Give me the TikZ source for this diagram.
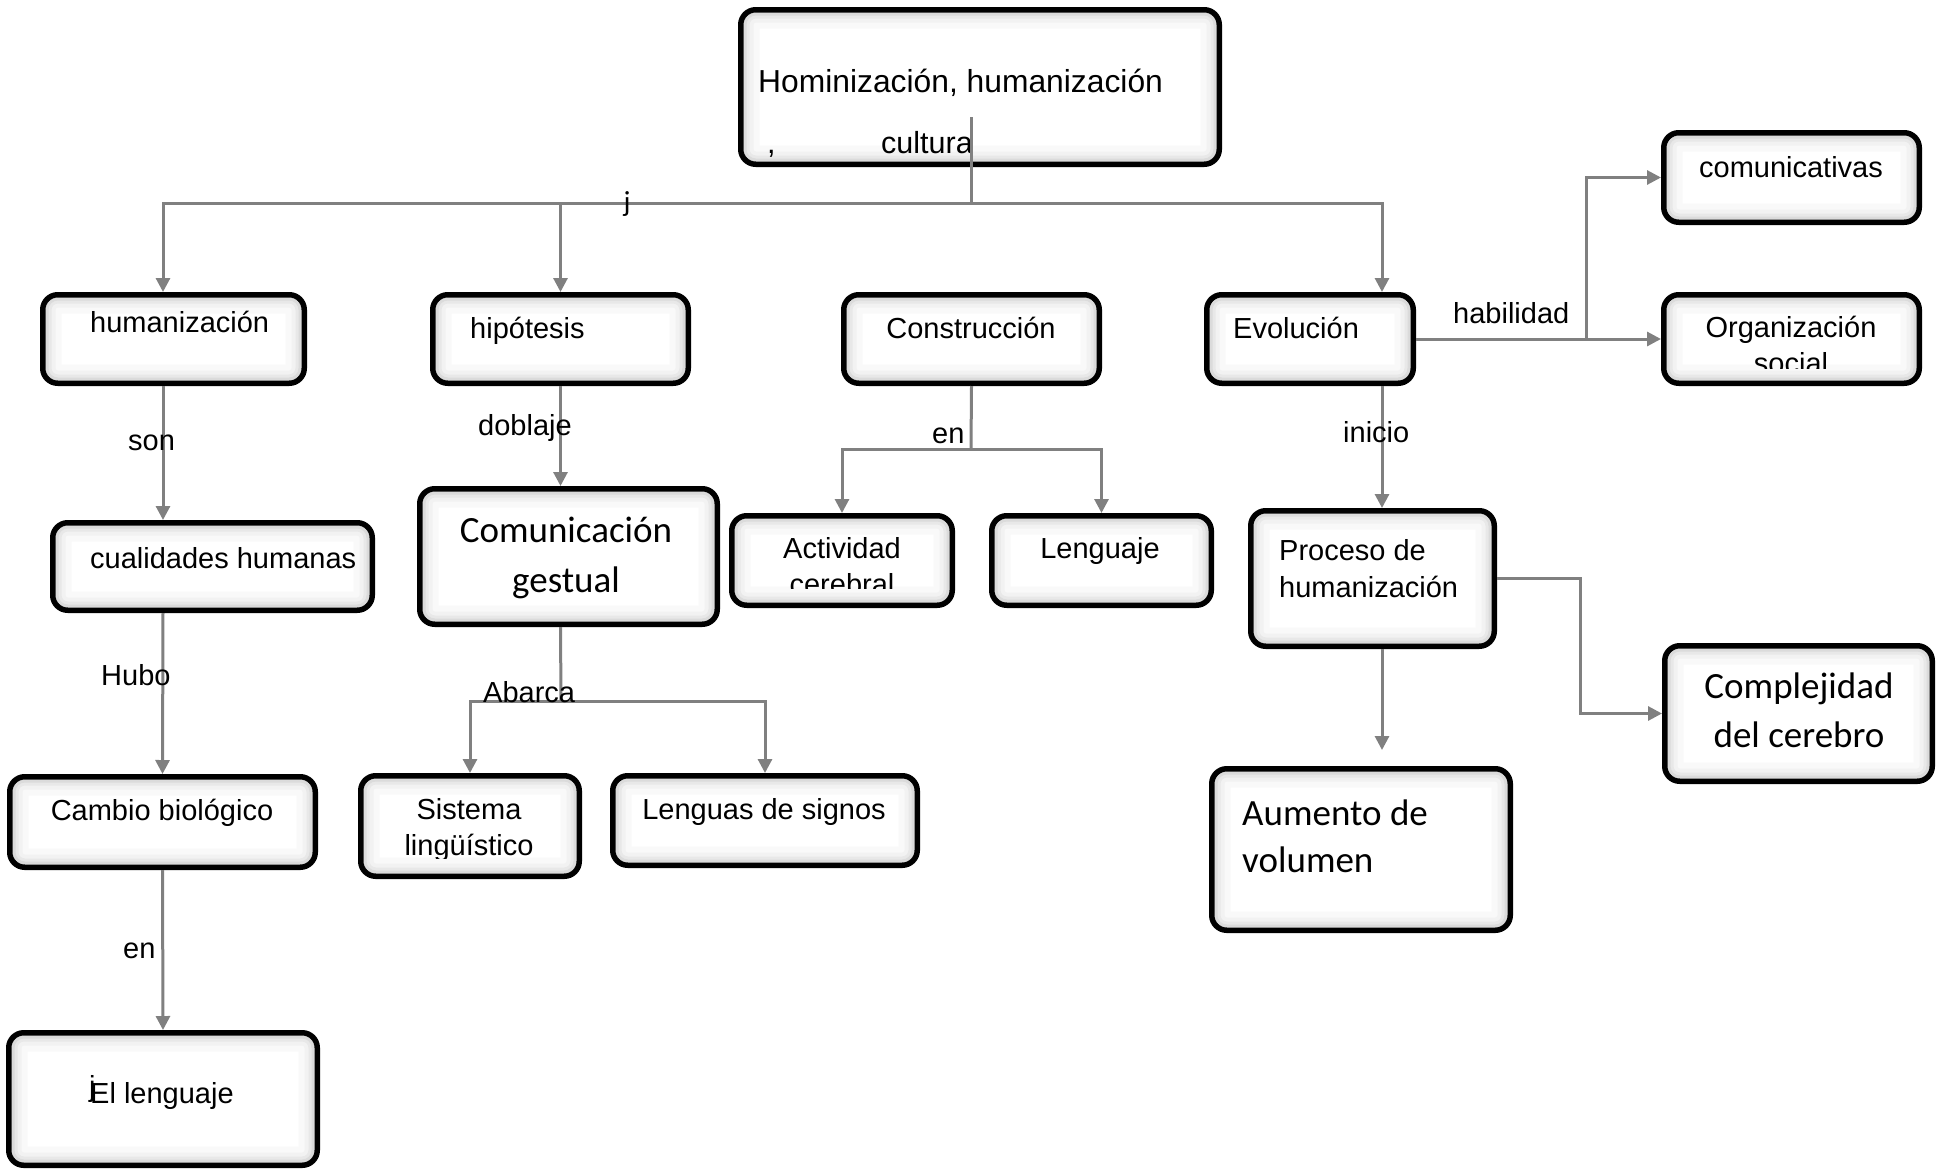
\documentclass[tikz,border=0pt]{standalone}
\usepackage{fontspec}
\setmainfont{Liberation Sans}
\newfontfamily\carl{Carlito}
\usetikzlibrary{arrows.meta}
\newcommand{\cbx}[5]{\node[cbox, minimum width={#4-#2-5.5}, minimum height={#5-#3-5.5}] (#1) at ({(#2+#4)/2},{(#3+#5)/2}) {};}
\newcommand{\glowline}[3]{\draw[#1, line width=#2pt, rounded corners={max(1,15-#3)*1pt}] ([xshift=#3pt,yshift=#3pt]path picture bounding box.south west) rectangle ([xshift=-#3pt,yshift=-#3pt]path picture bounding box.north east);}
\begin{document}
\begin{tikzpicture}[x=1pt,y=-1pt,
  cbox/.style={draw=black, line width=5.5pt, rounded corners=15pt, fill=white, inner sep=0pt,
    path picture={
      \glowline{gray!5}{16}{10.75}
      \glowline{gray!10}{10}{7.75}
      \glowline{gray!18}{6}{5.75}
      \glowline{gray!28}{3}{4.25}
    }},
  conn/.style={draw=gray, line width=3pt},
  arr/.style={conn, -{Triangle[length=14pt,width=14pt]}},
  tx/.style={font=\fontsize{29}{35}\selectfont, inner sep=0pt, anchor=base west},
  tc/.style={font=\fontsize{29}{35}\selectfont, inner sep=0pt, anchor=base},
  tcal/.style={font=\carl\fontsize{37}{45}\selectfont, inner sep=0pt, anchor=base},
  tcalw/.style={font=\carl\fontsize{37}{45}\selectfont, inner sep=0pt, anchor=base west},
  lab/.style={font=\fontsize{29}{35}\selectfont, inner sep=0pt, anchor=base west}
]
\useasboundingbox (0,0) rectangle (1938,1170);

% boxes
\cbx{top}{738}{7}{1222}{167}
\cbx{hum}{40}{292}{307}{386}
\cbx{hip}{430}{292}{691}{386}
\cbx{con}{841}{292}{1102}{386}
\cbx{evo}{1204}{292}{1416}{386}
\cbx{com}{1661}{130}{1922}{225}
\cbx{org}{1661}{292}{1922}{386}
\cbx{cual}{50}{520}{375}{613}
\cbx{gest}{417}{486}{720}{627}
\cbx{act}{729}{513}{955}{608}
\cbx{len}{989}{513}{1214}{608}
\cbx{proc}{1248}{508}{1497}{649}
\cbx{comp}{1662}{643}{1935}{784}
\cbx{aum}{1209}{766}{1513}{933}
\cbx{camb}{7}{774}{318}{870}
\cbx{sis}{358}{773}{582}{879}
\cbx{lsig}{610}{773}{920}{868}
\cbx{ell}{6}{1030}{320}{1168}

% box texts
\node[tx, font=\fontsize{31.8}{36}\selectfont] (t1) at (758,92) {Hominización, humanización};
\node[tx, font=\fontsize{30.5}{36}\selectfont] (t2) at (767,153) {,};
\node[tx, font=\fontsize{30.5}{36}\selectfont] (t3) at (881,153) {cultura};
\node[tx] (thum) at (90,332) {humanización};
\node[tx] (thip) at (470,338) {hipótesis};
\node[tc] (tcon) at (971,338) {Construcción};
\node[tx] (tevo) at (1233,338) {Evolución};
\node[tc] (tcom) at (1791,177) {comunicativas};
\node[tc] (torg) at (1791,337) {Organización};
\begin{scope}
  \clip (1661,292) rectangle (1922,368);
  \node[tc] (tsoc) at (1791,373) {social};
\end{scope}
\node[tx] (tcual) at (90,568) {cualidades humanas};
\node[tcal] (tg1) at (566,542) {Comunicación};
\node[tcal] (tg2) at (566,592) {gestual};
\node[tc] (tact) at (842,558) {Actividad};
\begin{scope}
  \clip (729,513) rectangle (955,588);
  \node[tc] (tcer) at (842,594) {cerebral};
\end{scope}
\node[tc] (tlen) at (1100,558) {Lenguaje};
\node[tx] (tp1) at (1279,560) {Proceso de};
\node[tx] (tp2) at (1279,597) {humanización};
\node[tcal] (tc1) at (1799,698) {Complejidad};
\node[tcal] (tc2) at (1799,747) {del cerebro};
\node[tcalw] (ta1) at (1242,825) {Aumento de};
\node[tcalw] (ta2) at (1242,872) {volumen};
\node[tc] (tcamb) at (162,820) {Cambio biológico};
\node[tc] (tsis) at (469,819) {Sistema};
\begin{scope}
  \clip (358,773) rectangle (582,858);
  \node[tc] (tling) at (469,855) {lingüístico};
\end{scope}
\node[tc] (tlsig) at (764,819) {Lenguas de signos};
\node[tx] (tell) at (90,1103) {El lenguaje};
\node[tx] (tellj) at (89,1096) {j};

% connectors
\coordinate (tj) at (971,117);
\coordinate (tbar) at (971,203);
\draw[conn] (tj) -- (tbar);
\draw[arr] (tbar) -| ([xshift=-10.5pt]hum.north);
\draw[arr] (tbar) -| (hip.north);
\draw[arr] (tbar) -| ([xshift=72pt]evo.north);
\node[font=\carl\fontsize{29}{35}\selectfont, inner sep=0pt, anchor=base] (lj) at (627,211) {j};

\draw[arr] ([xshift=-10.5pt]hum.south) -- ([xshift=-49.5pt]cual.north);
\node[lab] (lson) at (128,450) {son};
\draw[arr] ([xshift=-49.5pt]cual.south) -- (camb.north);
\node[lab] (lhubo) at (101,685) {Hubo};
\draw[arr] (camb.south) -- (ell.north);
\node[lab] (len1) at (123,958) {en};

\draw[arr] (hip.south) -- (gest.north -| hip.south);
\node[lab] (ldob) at (478,435) {doblaje};

\coordinate (gj) at (561,701);
\draw[conn] (gest.south -| hip.south) -- (gj);
\draw[arr] (gj) -| (sis.north);
\draw[arr] (gj) -| (lsig.north);
\node[lab] (labar) at (483,702) {Abarca};

\coordinate (cj) at (971,449);
\draw[conn] (con.south) -- (cj);
\draw[arr] (cj) -| (act.north);
\draw[arr] (cj) -| (len.north);
\node[lab] (len2) at (932,443) {en};

\draw[arr] ([xshift=72pt]evo.south) -- ([xshift=9.5pt]proc.north);
\node[lab] (lini) at (1343,442) {inicio};

\draw[arr] (evo.east) -- (org.west);
\coordinate (hj) at (1586,339);
\draw[arr] (hj) |- (com.west);
\node[lab] (lhab) at (1453,323) {habilidad};

\draw[arr] ([xshift=9.5pt]proc.south) -- ([xshift=21pt,yshift=16pt]aum.north);
\coordinate (pk) at (1580,650);
\draw[arr] (proc.east) -| (pk) |- (comp.west);
\end{tikzpicture}
\end{document}
